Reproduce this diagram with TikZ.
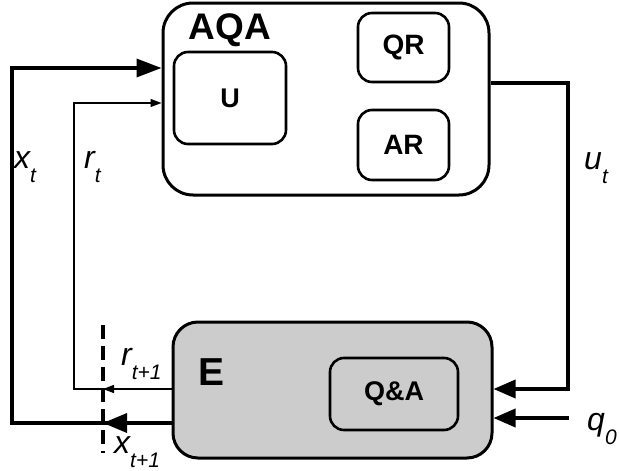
\documentclass[tikz,border=0pt]{standalone}
\usepackage{fontspec}
\setmainfont{Liberation Sans}
\usetikzlibrary{arrows.meta}
\definecolor{egray}{HTML}{CCCCCC}
\newcommand{\sublab}[2]{{\fontsize{32}{32}\selectfont\itshape #1}\raisebox{-14pt}{\fontsize{21}{21}\selectfont\itshape #2}}
\begin{document}
\begin{tikzpicture}[x=1pt,y=-1pt,
  outerbox/.style={draw,line width=3pt,rounded corners=#1,inner sep=0pt},
  innerbox/.style={draw,line width=2.6pt,rounded corners=14pt,inner sep=0pt,
    font=\fontsize{28}{28}\selectfont\bfseries},
  thickline/.style={line width=3.5pt},
  thinline/.style={line width=1.3pt},
  bigtip/.style={-{Triangle[length=25pt,width=18pt]}},
  midtip/.style={-{Triangle[length=22pt,width=18pt]}},
  smalltip/.style={-{Triangle[length=11pt,width=8pt]}},
  dashline/.style={line width=3.5pt,dash pattern=on 14pt off 7pt},
  boldlab/.style={inner sep=0pt,anchor=base},
  itlab/.style={inner sep=0pt,anchor=base west}]
\useasboundingbox (0,0) rectangle (619,471);
% boxes
\node[outerbox=30pt,minimum width=326pt,minimum height=192pt] (AQA) at (326,99) {};
\node[innerbox,minimum width=112pt,minimum height=92pt,font=\fontsize{27}{27}\selectfont\bfseries] (U) at (230,98) {U};
\node[innerbox,minimum width=91pt,minimum height=69pt] (QR) at (403.5,47.5) {QR};
\node[innerbox,minimum width=91pt,minimum height=70pt] (AR) at (403.5,145) {AR};
\node[outerbox=25pt,fill=egray,minimum width=319pt,minimum height=136pt] (E) at (332.5,390) {};
\node[innerbox,fill=egray,minimum width=128pt,minimum height=72pt,font=\fontsize{27}{27}\selectfont\bfseries] (QA) at (394,394) {Q\&A};
\node[boldlab,font=\fontsize{37}{37}\selectfont\bfseries] (AQAlab) at (230,39) {AQA};
\node[boldlab,font=\fontsize{39}{39}\selectfont\bfseries] (Elab) at (212,385) {E};
% coordinates
\coordinate (xtop) at (12,68);
\coordinate (xbot) at (12,423);
\coordinate (rtop) at (74,103);
\coordinate (rbot) at (74,389);
\coordinate (ucorner) at (568,83);
\coordinate (ubot) at (568,389);
\coordinate (q0) at (569,418);
\coordinate (dtop) at (103,325);
\coordinate (dbot) at (103,453);
% connectors
\draw[thickline,bigtip] (E.west |- xbot) -- (xbot) -- (xtop) -- (xtop -| AQA.west);
\draw[thickline,-{Triangle[length=24pt,width=19pt]}] (E.west |- xbot) -- (dtop |- xbot);
\draw[thinline,smalltip] (E.west |- rbot) -- (rbot) -- (rtop) -- (rtop -| AQA.west);
\draw[thinline,smalltip] (E.west |- rbot) -- (dtop |- rbot);
\draw[thickline,midtip] (AQA.east |- ucorner) -- (ucorner) -- (ubot) -- (E.east |- ubot);
\draw[thickline,midtip] (q0) -- (E.east |- q0);
\draw[dashline] (dtop) -- (dbot);
% labels
\node[itlab] (xt) at (14,168) {\sublab{x}{t}};
\node[itlab] (rt) at (84,168) {\sublab{r}{t}};
\node[itlab] (ut) at (584,169) {\sublab{u}{t}};
\node[itlab] (q0lab) at (587,430) {\sublab{q}{0}};
\node[itlab] (rt1) at (121,365) {\sublab{r}{t+1}};
\node[itlab] (xt1) at (114,453) {\sublab{x}{t+1}};
\end{tikzpicture}
\end{document}
